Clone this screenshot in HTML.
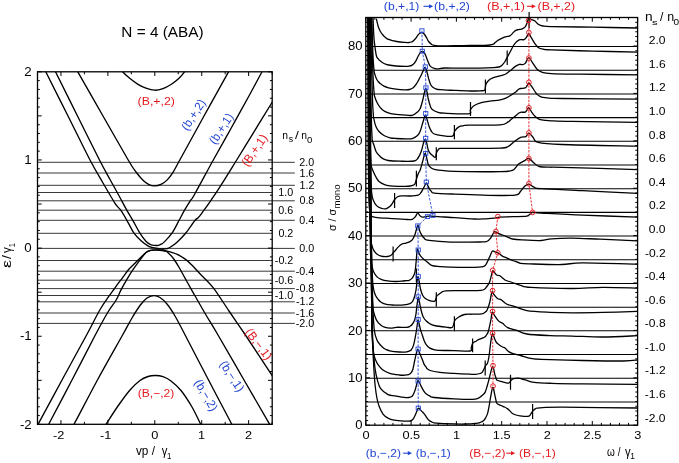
<!DOCTYPE html><html><head><meta charset="utf-8"><style>html,body{margin:0;padding:0;background:#fff;}svg{display:block;will-change:transform}text{font-family:"Liberation Sans",sans-serif;}</style></head><body>
<svg width="679" height="463" viewBox="0 0 679 463">
<rect width="679" height="463" fill="#fff"/>
<defs><clipPath id="cl"><rect x="37.5" y="71.8" width="234.7" height="352.5"/></clipPath><clipPath id="cr"><rect x="366" y="17.4" width="271.6" height="407.8"/></clipPath></defs>
<line x1="37.5" y1="162.3" x2="294.8" y2="162.3" stroke="#222" stroke-width="0.9"/>
<line x1="37.5" y1="173" x2="294.8" y2="173" stroke="#222" stroke-width="0.9"/>
<line x1="37.5" y1="185.3" x2="294.8" y2="185.3" stroke="#222" stroke-width="0.9"/>
<line x1="37.5" y1="192.5" x2="272.2" y2="192.5" stroke="#222" stroke-width="0.9"/>
<line x1="37.5" y1="200.8" x2="294.8" y2="200.8" stroke="#222" stroke-width="0.9"/>
<line x1="37.5" y1="210.2" x2="272.2" y2="210.2" stroke="#222" stroke-width="0.9"/>
<line x1="37.5" y1="220.3" x2="294.8" y2="220.3" stroke="#222" stroke-width="0.9"/>
<line x1="37.5" y1="233.3" x2="272.2" y2="233.3" stroke="#222" stroke-width="0.9"/>
<line x1="37.5" y1="248.4" x2="294.8" y2="248.4" stroke="#222" stroke-width="0.9"/>
<line x1="37.5" y1="260.5" x2="272.2" y2="260.5" stroke="#222" stroke-width="0.9"/>
<line x1="37.5" y1="271.2" x2="294.8" y2="271.2" stroke="#222" stroke-width="0.9"/>
<line x1="37.5" y1="280.2" x2="272.2" y2="280.2" stroke="#222" stroke-width="0.9"/>
<line x1="37.5" y1="288.6" x2="294.8" y2="288.6" stroke="#222" stroke-width="0.9"/>
<line x1="37.5" y1="295.5" x2="272.2" y2="295.5" stroke="#222" stroke-width="0.9"/>
<line x1="37.5" y1="301.8" x2="294.8" y2="301.8" stroke="#222" stroke-width="0.9"/>
<line x1="37.5" y1="313" x2="294.8" y2="313" stroke="#222" stroke-width="0.9"/>
<line x1="37.5" y1="323.4" x2="294.8" y2="323.4" stroke="#222" stroke-width="0.9"/>
<g clip-path="url(#cl)" fill="none" stroke="#000" stroke-width="1.35">
<path d="M116.5 63 C117.52 64.47 120.35 69.2 122.6 71.8 C124.85 74.4 127.43 76.52 130 78.6 C132.57 80.68 135.33 82.7 138 84.3 C140.67 85.9 143.23 87.22 146 88.2 C148.77 89.18 151.77 90.13 154.6 90.2 C157.43 90.27 160.27 89.55 163 88.6 C165.73 87.65 168.42 86.13 171 84.5 C173.58 82.87 176.25 80.92 178.5 78.8 C180.75 76.68 182.58 74.43 184.5 71.8 C186.42 69.17 189.08 64.47 190 63"/>
<path d="M73 63 C73.8 64.47 72.8 62.97 77.8 71.8 C82.8 80.63 94.6 101.3 103 116 C111.4 130.7 122.7 150.67 128.2 160 C133.7 169.33 133.53 168.63 136 172 C138.47 175.37 140.83 178.1 143 180.2 C145.17 182.3 147.05 183.65 149 184.6 C150.95 185.55 152.7 185.93 154.7 185.9 C156.7 185.87 158.95 185.37 161 184.4 C163.05 183.43 165 182.12 167 180.1 C169 178.08 170.87 175.65 173 172.3 C175.13 168.95 174.63 169.38 179.8 160 C184.97 150.62 195.88 130.7 204 116 C212.12 101.3 223.67 80.63 228.5 71.8 C233.33 62.97 232.25 64.47 233 63"/>
<path d="M41.2 63 C41.96 64.47 41.28 62.97 45.75 71.8 C50.22 80.63 60.62 101.3 68 116 C75.38 130.7 84.17 148.83 90 160 C95.83 171.17 98.83 175.78 103 183 C107.17 190.22 112.02 198.73 115 203.3 C117.98 207.87 118.92 207.57 120.9 210.4 C122.88 213.23 124.72 216.5 126.9 220.3 C129.08 224.1 131.63 229.8 134 233.2 C136.37 236.6 138.72 238.55 141.1 240.7 C143.48 242.85 146.32 244.93 148.3 246.1 C150.28 247.27 151.38 247.3 153 247.7 C154.62 248.1 156.33 248.28 158 248.5 C159.67 248.72 161.5 248.98 163 249 C164.5 249.02 165.8 248.88 167 248.6 C168.2 248.32 168.48 248.42 170.2 247.3 C171.92 246.18 174.73 244.25 177.3 241.9 C179.87 239.55 182.63 236.8 185.6 233.2 C188.57 229.6 192.7 223.23 195.1 220.3 C197.5 217.37 196.32 220.47 200 215.6 C203.68 210.73 211.08 200.37 217.2 191.1 C223.32 181.83 230.57 169.88 236.7 160 C242.83 150.12 248.17 141.3 254 131.8 C259.83 122.3 267.87 109.25 271.7 103 C275.53 96.75 276.12 95.75 277 94.3"/>
<path d="M51 63 C51.75 64.47 51.08 62.97 55.5 71.8 C59.92 80.63 70.17 101.3 77.5 116 C84.83 130.7 94.08 149.42 99.5 160 C104.92 170.58 106.82 173.67 110 179.5 C113.18 185.33 115.78 189.85 118.6 195 C121.42 200.15 124.53 206.18 126.9 210.4 C129.27 214.62 130.63 216.5 132.8 220.3 C134.97 224.1 137.72 229.72 139.9 233.2 C142.08 236.68 144.12 239.3 145.9 241.2 C147.68 243.1 149.12 243.9 150.6 244.6 C152.08 245.3 153.52 245.28 154.8 245.4 C156.08 245.52 157.23 245.5 158.3 245.3 C159.37 245.1 160.2 244.77 161.2 244.2 C162.2 243.63 162.5 243.73 164.3 241.9 C166.1 240.07 169.53 236.8 172 233.2 C174.47 229.6 177.03 224.1 179.1 220.3 C181.17 216.5 182.52 213.68 184.4 210.4 C186.28 207.12 188.72 203.25 190.4 200.6 C192.08 197.95 190.68 201.27 194.5 194.5 C198.32 187.73 207.13 171.17 213.3 160 C219.47 148.83 225.47 138.33 231.5 127.5 C237.53 116.67 244.42 104.28 249.5 95 C254.58 85.72 259.17 77.13 262 71.8 C264.83 66.47 265.75 64.47 266.5 63"/>
<path d="M101 432 C101.83 430.72 103.17 428.63 106 424.3 C108.83 419.97 114 411.72 118 406 C122 400.28 126.33 394.25 130 390 C133.67 385.75 137 382.75 140 380.5 C143 378.25 145.45 377.33 148 376.5 C150.55 375.67 152.8 375.47 155.3 375.5 C157.8 375.53 160.38 375.78 163 376.7 C165.62 377.62 168 378.7 171 381 C174 383.3 177.5 386.17 181 390.5 C184.5 394.83 188.72 401.37 192 407 C195.28 412.63 198.53 420.13 200.7 424.3 C202.87 428.47 204.28 430.72 205 432"/>
<path d="M69 432 C69.83 430.72 69.17 433.13 74 424.3 C78.83 415.47 89.9 393.88 98 379 C106.1 364.12 116.93 345.17 122.6 335 C128.27 324.83 129.1 322.92 132 318 C134.9 313.08 137.5 308.83 140 305.5 C142.5 302.17 144.72 299.65 147 298 C149.28 296.35 151.53 295.68 153.7 295.6 C155.87 295.52 157.78 296.1 160 297.5 C162.22 298.9 164.5 300.92 167 304 C169.5 307.08 171.98 310.83 175 316 C178.02 321.17 179.6 324.5 185.1 335 C190.6 345.5 200.22 364.12 208 379 C215.78 393.88 227.13 415.47 231.8 424.3 C236.47 433.13 235.3 430.72 236 432"/>
<path d="M33 432 C33.83 430.72 33.17 432.97 38 424.3 C42.83 415.63 53.9 394.88 62 380 C70.1 365.12 80.1 347 86.6 335 C93.1 323 96.27 315.87 101 308 C105.73 300.13 111.48 292.75 115 287.8 C118.52 282.85 119.72 281.47 122.1 278.3 C124.48 275.13 126.72 271.75 129.3 268.8 C131.88 265.85 135.23 262.93 137.6 260.6 C139.97 258.27 141.72 256.37 143.5 254.8 C145.28 253.23 146.52 252.02 148.3 251.2 C150.08 250.38 152.23 250.1 154.2 249.9 C156.17 249.7 158.15 249.85 160.1 250 C162.05 250.15 164.08 250.43 165.9 250.8 C167.72 251.17 169.1 251.6 171 252.2 C172.9 252.8 174.87 253.2 177.3 254.4 C179.73 255.6 183.02 257.45 185.6 259.4 C188.18 261.35 190.4 263.7 192.8 266.1 C195.2 268.5 196.58 270.18 200 273.8 C203.42 277.42 208.47 281.6 213.3 287.8 C218.13 294 223.65 303.13 229 311 C234.35 318.87 238.28 324.35 245.4 335 C252.52 345.65 266.43 366.9 271.7 374.9 C276.97 382.9 276.12 381.65 277 383"/>
<path d="M44 432 C44.78 430.72 44.03 432.97 48.7 424.3 C53.37 415.63 64.23 394.88 72 380 C79.77 365.12 89.3 346.33 95.3 335 C101.3 323.67 104.52 317.83 108 312 C111.48 306.17 114.05 303.65 116.2 300 C118.35 296.35 119.12 293.53 120.9 290.1 C122.68 286.67 124.92 282.77 126.9 279.4 C128.88 276.03 130.82 272.87 132.8 269.9 C134.78 266.93 136.62 264.48 138.8 261.6 C140.98 258.72 143.93 254.47 145.9 252.6 C147.87 250.73 148.75 250.8 150.6 250.4 C152.45 250 155.1 250.18 157 250.2 C158.9 250.22 160.7 250.37 162 250.5 C163.3 250.63 163.83 250.68 164.8 251 C165.77 251.32 166.3 251.07 167.8 252.4 C169.3 253.73 171.82 256.32 173.8 259 C175.78 261.68 177.73 265.13 179.7 268.5 C181.67 271.87 183.62 275.63 185.6 279.2 C187.58 282.77 190.12 287.27 191.6 289.9 C193.08 292.53 192.1 290.82 194.5 295 C196.9 299.18 202.08 308.33 206 315 C209.92 321.67 211.67 324.17 218 335 C224.33 345.83 235.38 365.12 244 380 C252.62 394.88 264.7 415.63 269.7 424.3 C274.7 432.97 273.28 430.72 274 432"/>
</g>
<rect x="37.5" y="71.8" width="234.7" height="352.5" fill="none" stroke="#000" stroke-width="1.3"/>
<path d="M37.5 424.3 v-2.5 M37.5 71.8 v2.5 M60.96 424.3 v-4.2 M60.96 71.8 v4.2 M84.42 424.3 v-2.5 M84.42 71.8 v2.5 M107.88 424.3 v-4.2 M107.88 71.8 v4.2 M131.34 424.3 v-2.5 M131.34 71.8 v2.5 M154.8 424.3 v-4.2 M154.8 71.8 v4.2 M178.26 424.3 v-2.5 M178.26 71.8 v2.5 M201.72 424.3 v-4.2 M201.72 71.8 v4.2 M225.18 424.3 v-2.5 M225.18 71.8 v2.5 M248.64 424.3 v-4.2 M248.64 71.8 v4.2 M272.1 424.3 v-2.5 M272.1 71.8 v2.5 M37.5 424.4 h4.2 M272.2 424.4 h-4.2 M37.5 415.59 h2.3 M272.2 415.59 h-2.3 M37.5 406.77 h2.3 M272.2 406.77 h-2.3 M37.5 397.96 h2.3 M272.2 397.96 h-2.3 M37.5 389.14 h2.3 M272.2 389.14 h-2.3 M37.5 380.33 h4.2 M272.2 380.33 h-4.2 M37.5 371.51 h2.3 M272.2 371.51 h-2.3 M37.5 362.69 h2.3 M272.2 362.69 h-2.3 M37.5 353.88 h2.3 M272.2 353.88 h-2.3 M37.5 345.06 h2.3 M272.2 345.06 h-2.3 M37.5 336.25 h4.2 M272.2 336.25 h-4.2 M37.5 327.44 h2.3 M272.2 327.44 h-2.3 M37.5 318.62 h2.3 M272.2 318.62 h-2.3 M37.5 309.81 h2.3 M272.2 309.81 h-2.3 M37.5 300.99 h2.3 M272.2 300.99 h-2.3 M37.5 292.18 h4.2 M272.2 292.18 h-4.2 M37.5 283.36 h2.3 M272.2 283.36 h-2.3 M37.5 274.55 h2.3 M272.2 274.55 h-2.3 M37.5 265.73 h2.3 M272.2 265.73 h-2.3 M37.5 256.92 h2.3 M272.2 256.92 h-2.3 M37.5 248.1 h4.2 M272.2 248.1 h-4.2 M37.5 239.28 h2.3 M272.2 239.28 h-2.3 M37.5 230.47 h2.3 M272.2 230.47 h-2.3 M37.5 221.65 h2.3 M272.2 221.65 h-2.3 M37.5 212.84 h2.3 M272.2 212.84 h-2.3 M37.5 204.02 h4.2 M272.2 204.02 h-4.2 M37.5 195.21 h2.3 M272.2 195.21 h-2.3 M37.5 186.39 h2.3 M272.2 186.39 h-2.3 M37.5 177.58 h2.3 M272.2 177.58 h-2.3 M37.5 168.76 h2.3 M272.2 168.76 h-2.3 M37.5 159.95 h4.2 M272.2 159.95 h-4.2 M37.5 151.13 h2.3 M272.2 151.13 h-2.3 M37.5 142.32 h2.3 M272.2 142.32 h-2.3 M37.5 133.5 h2.3 M272.2 133.5 h-2.3 M37.5 124.69 h2.3 M272.2 124.69 h-2.3 M37.5 115.87 h4.2 M272.2 115.87 h-4.2 M37.5 107.06 h2.3 M272.2 107.06 h-2.3 M37.5 98.24 h2.3 M272.2 98.24 h-2.3 M37.5 89.43 h2.3 M272.2 89.43 h-2.3 M37.5 80.61 h2.3 M272.2 80.61 h-2.3 M37.5 71.8 h4.2 M272.2 71.8 h-4.2" stroke="#000" stroke-width="1" fill="none"/>
<text transform="translate(24.36 76) scale(1.1200 1)" font-size="11.9" fill="#000">2</text>
<text transform="translate(24.34 164.15) scale(1.1200 1)" font-size="11.9" fill="#000">1</text>
<text transform="translate(24.21 252.3) scale(1.1200 1)" font-size="11.9" fill="#000">0</text>
<text transform="translate(19.9 340.45) scale(1.1200 1)" font-size="11.9" fill="#000">-1</text>
<text transform="translate(19.92 428.6) scale(1.1200 1)" font-size="11.9" fill="#000">-2</text>
<text transform="translate(53.12 439.1) scale(1.1000 1)" font-size="11.6" fill="#000">-2</text>
<text transform="translate(100.04 439.1) scale(1.1000 1)" font-size="11.6" fill="#000">-1</text>
<text transform="translate(151.25 439.1) scale(1.1000 1)" font-size="11.6" fill="#000">0</text>
<text transform="translate(198 439.1) scale(1.1000 1)" font-size="11.6" fill="#000">1</text>
<text transform="translate(245.09 439.1) scale(1.1000 1)" font-size="11.6" fill="#000">2</text>
<text transform="translate(135.96 455.3) scale(0.9844 1)" font-size="12" fill="#000">vp /</text>
<text transform="translate(161.76 455.3) scale(0.9463 1)" font-size="12" fill="#000">&#947;</text>
<text transform="translate(167 458.6) scale(0.9170 1)" font-size="8.6" fill="#000">1</text>
<g transform="translate(11.4 0) rotate(-90)"><text transform="translate(-267.92 0) scale(1.5071 1)" font-size="12" fill="#000">&#949;</text><text transform="translate(-258.9 0) scale(1.1698 1)" font-size="12" fill="#000">/</text><text transform="translate(-253.04 0) scale(0.9801 1)" font-size="12" fill="#000">&#947;</text><text transform="translate(-247.18 3.5) scale(0.9112 1)" font-size="8.4" fill="#000">1</text></g>
<text transform="translate(121.34 36.9) scale(1.0963 1)" font-size="14" fill="#000">N = 4 (ABA)</text>
<text transform="translate(282.31 138.7) scale(1.0358 1)" font-size="10" fill="#000">n</text>
<text transform="translate(288.66 142.4) scale(0.9174 1)" font-size="9.5" fill="#000">s</text>
<text transform="translate(295.1 138.7) scale(1.3677 1)" font-size="10" fill="#000">/</text>
<text transform="translate(301.21 138.7) scale(1.0358 1)" font-size="10" fill="#000">n</text>
<text transform="translate(307.02 142.6) scale(1.0024 1)" font-size="9.6" fill="#000">0</text>
<text transform="translate(299.36 165.8) scale(1.0760 1)" font-size="10" fill="#000">2.0</text>
<text transform="translate(299.41 176.5) scale(1.0760 1)" font-size="10" fill="#000">1.6</text>
<text transform="translate(299.48 188.8) scale(1.0760 1)" font-size="10" fill="#000">1.2</text>
<text transform="translate(278.26 196) scale(1.0760 1)" font-size="10" fill="#000">1.0</text>
<text transform="translate(299.41 204.3) scale(1.0760 1)" font-size="10" fill="#000">0.8</text>
<text transform="translate(278.31 213.7) scale(1.0760 1)" font-size="10" fill="#000">0.6</text>
<text transform="translate(299.26 223.8) scale(1.0760 1)" font-size="10" fill="#000">0.4</text>
<text transform="translate(278.38 236.8) scale(1.0760 1)" font-size="10" fill="#000">0.2</text>
<text transform="translate(299.36 251.9) scale(1.0760 1)" font-size="10" fill="#000">0.0</text>
<text transform="translate(274.8 264) scale(1.0760 1)" font-size="10" fill="#000">-0.2</text>
<text transform="translate(295.67 274.7) scale(1.0760 1)" font-size="10" fill="#000">-0.4</text>
<text transform="translate(274.73 283.7) scale(1.0760 1)" font-size="10" fill="#000">-0.6</text>
<text transform="translate(295.83 292.1) scale(1.0760 1)" font-size="10" fill="#000">-0.8</text>
<text transform="translate(274.68 299) scale(1.0760 1)" font-size="10" fill="#000">-1.0</text>
<text transform="translate(295.9 305.3) scale(1.0760 1)" font-size="10" fill="#000">-1.2</text>
<text transform="translate(295.83 316.5) scale(1.0760 1)" font-size="10" fill="#000">-1.6</text>
<text transform="translate(295.78 326.9) scale(1.0760 1)" font-size="10" fill="#000">-2.0</text>
<text transform="translate(137.53 105.1) scale(1.1035 1)" font-size="11.2" fill="#e41c22">(B,+,2)</text>
<text transform="translate(137.75 397.2) scale(1.0789 1)" font-size="11.2" fill="#e41c22">(B,&#8722;,2)</text>
<text transform="translate(193.2 114.6) rotate(-57) translate(-17.23 4.32) scale(0.9843 1)" font-size="12" fill="#2246d2">(b,+,2)</text>
<text transform="translate(221 128.4) rotate(-57) translate(-17.23 4.32) scale(0.9843 1)" font-size="12" fill="#2246d2">(b,+,1)</text>
<text transform="translate(254.3 150) rotate(-55) translate(-17.99 4.32) scale(0.9897 1)" font-size="12" fill="#e41c22">(B,+,1)</text>
<text transform="translate(206.4 395) rotate(60) translate(-17.23 4.32) scale(0.9843 1)" font-size="12" fill="#2246d2">(b,&#8722;,2)</text>
<text transform="translate(232.3 376) rotate(57) translate(-17.23 4.32) scale(0.9843 1)" font-size="12" fill="#2246d2">(b,&#8722;,1)</text>
<text transform="translate(259 344) rotate(52.5) translate(-17.99 4.32) scale(0.9897 1)" font-size="12" fill="#e41c22">(B,&#8722;,1)</text>
<line x1="365.8" y1="401.91" x2="637.6" y2="401.91" stroke="#000" stroke-width="1.05"/>
<line x1="365.8" y1="378.22" x2="637.6" y2="378.22" stroke="#000" stroke-width="1.05"/>
<line x1="365.8" y1="354.53" x2="637.6" y2="354.53" stroke="#000" stroke-width="1.05"/>
<line x1="365.8" y1="330.84" x2="637.6" y2="330.84" stroke="#000" stroke-width="1.05"/>
<line x1="365.8" y1="307.15" x2="637.6" y2="307.15" stroke="#000" stroke-width="1.05"/>
<line x1="365.8" y1="283.46" x2="637.6" y2="283.46" stroke="#000" stroke-width="1.05"/>
<line x1="365.8" y1="259.77" x2="637.6" y2="259.77" stroke="#000" stroke-width="1.05"/>
<line x1="365.8" y1="236.08" x2="637.6" y2="236.08" stroke="#000" stroke-width="1.05"/>
<line x1="365.8" y1="212.39" x2="637.6" y2="212.39" stroke="#000" stroke-width="1.05"/>
<line x1="365.8" y1="188.7" x2="637.6" y2="188.7" stroke="#000" stroke-width="1.05"/>
<line x1="365.8" y1="165.01" x2="637.6" y2="165.01" stroke="#000" stroke-width="1.05"/>
<line x1="365.8" y1="141.32" x2="637.6" y2="141.32" stroke="#000" stroke-width="1.05"/>
<line x1="365.8" y1="117.63" x2="637.6" y2="117.63" stroke="#000" stroke-width="1.05"/>
<line x1="365.8" y1="93.94" x2="637.6" y2="93.94" stroke="#000" stroke-width="1.05"/>
<line x1="365.8" y1="70.25" x2="637.6" y2="70.25" stroke="#000" stroke-width="1.05"/>
<line x1="365.8" y1="46.56" x2="637.6" y2="46.56" stroke="#000" stroke-width="1.05"/>
<g clip-path="url(#cr)" fill="none" stroke="#000" stroke-width="1.3">
<path d="M370.11 17 C370.13 23.76 370.2 44.72 370.24 57.57 C370.28 70.41 370.33 82.52 370.37 94.08 C370.42 105.64 370.46 116.54 370.51 126.95 C370.56 137.35 370.61 147.16 370.65 156.53 C370.7 165.89 370.75 174.72 370.8 183.15 C370.85 191.58 370.9 199.53 370.96 207.12 C371.01 214.71 371.06 221.86 371.12 228.69 C371.17 235.52 371.22 241.95 371.28 248.1 C371.34 254.25 371.39 260.04 371.45 265.58 C371.51 271.11 371.57 276.33 371.63 281.31 C371.69 286.29 371.77 290.98 371.81 295.46 C371.85 299.95 371.85 304.17 371.86 308.21 C371.87 312.24 371.86 316.04 371.87 319.68 C371.87 323.31 371.71 324.68 371.9 330 C372.09 335.32 372.65 344.77 373 351.6 C373.35 358.43 373.63 365.27 374 371 C374.37 376.73 374.73 381.58 375.2 386 C375.67 390.42 376.17 394.15 376.8 397.5 C377.43 400.85 377.97 403.33 379 406.1 C380.03 408.87 381.5 412.1 383 414.1 C384.5 416.1 386.17 417.1 388 418.1 C389.83 419.1 391.33 419.6 394 420.1 C396.67 420.6 401.32 420.95 404 421.1 C406.68 421.25 408.58 421.33 410.1 421 C411.62 420.67 412.17 420.25 413.1 419.1 C414.03 417.95 414.93 415.77 415.7 414.1 C416.47 412.43 417.13 410.1 417.7 409.1 C418.27 408.1 418.63 407.98 419.1 408.1 C419.57 408.22 420 409.22 420.5 409.8 C421 410.38 421.52 410.97 422.1 411.6 C422.68 412.23 423.33 412.77 424 413.6 C424.67 414.43 425.43 415.63 426.1 416.6 C426.77 417.57 427.33 418.65 428 419.4 C428.67 420.15 429.27 420.58 430.1 421.1 C430.93 421.62 432 422.17 433 422.5 C434 422.83 432.58 422.87 436.1 423.1 C439.62 423.33 449.28 423.75 454.1 423.9 C458.92 424.05 461.38 424.08 465 424 C468.62 423.92 473.3 423.65 475.8 423.4 C478.3 423.15 478.68 422.98 480 422.5 C481.32 422.02 482.73 421.33 483.7 420.5 C484.67 419.67 485.15 418.68 485.8 417.5 C486.45 416.32 487.02 415.48 487.6 413.4 C488.18 411.32 488.77 407.9 489.3 405 C489.83 402.1 490.22 398.95 490.8 396 C491.38 393.05 492.15 387.57 492.8 387.3 C493.45 387.03 494.17 392.2 494.7 394.4 C495.23 396.6 495.6 398.97 496 400.5 C496.4 402.03 496.27 402.77 497.1 403.6 C497.93 404.43 499.85 404.97 501 405.5 C502.15 406.03 502.95 406.28 504 406.8 C505.05 407.32 506.3 407.9 507.3 408.6 C508.3 409.3 509.2 410.23 510 411 C510.8 411.77 511.1 412.53 512.1 413.2 C513.1 413.87 514.68 414.57 516 415 C517.32 415.43 518.03 415.58 520 415.8 C521.97 416.02 526.17 416.35 527.8 416.3 C529.43 416.25 529.27 415.95 529.8 415.5 C530.33 415.05 530.43 414.43 531 413.6 C531.57 412.77 532.42 411.33 533.2 410.5 C533.98 409.67 534.57 409.05 535.7 408.6 C536.83 408.15 535.63 408.03 540 407.8 C544.37 407.57 545.63 407.17 561.9 407.2 C578.17 407.23 624.98 407.87 637.6 408"/>
<path d="M369.84 17 C369.86 24.32 369.93 47.11 369.98 60.9 C370.02 74.7 370.07 87.55 370.12 99.76 C370.17 111.97 370.22 123.35 370.27 134.16 C370.32 144.97 370.38 155.04 370.43 164.61 C370.48 174.17 370.54 183.09 370.59 191.56 C370.65 200.03 370.7 207.92 370.76 215.41 C370.82 222.91 370.88 229.9 370.94 236.53 C371 243.17 371.06 249.35 371.12 255.22 C371.19 261.1 371.25 266.57 371.31 271.77 C371.38 276.97 371.45 281.81 371.51 286.41 C371.58 291.01 371.68 295.3 371.72 299.38 C371.76 303.45 371.74 307.25 371.76 310.85 C371.77 314.46 371.79 317.82 371.81 321.01 C371.84 324.2 371.64 324.9 371.9 330 C372.16 335.1 372.87 345.12 373.4 351.6 C373.93 358.08 374.45 364.22 375.1 368.9 C375.75 373.58 376.4 376.47 377.3 379.7 C378.2 382.93 378.7 385.82 380.5 388.3 C382.3 390.78 385.68 393.35 388.1 394.6 C390.52 395.85 392.33 395.33 395 395.8 C397.67 396.27 401.77 397.12 404.1 397.4 C406.43 397.68 407.67 397.68 409 397.5 C410.33 397.32 411.27 397.05 412.1 396.3 C412.93 395.55 413.4 394.37 414 393 C414.6 391.63 415.2 389.77 415.7 388.1 C416.2 386.43 416.6 384.28 417 383 C417.4 381.72 417.72 380.48 418.1 380.4 C418.48 380.32 418.8 381.55 419.3 382.5 C419.8 383.45 420.4 384.77 421.1 386.1 C421.8 387.43 422.67 389.22 423.5 390.5 C424.33 391.78 425.02 392.85 426.1 393.8 C427.18 394.75 428.67 395.58 430 396.2 C431.33 396.82 430.08 397.07 434.1 397.5 C438.12 397.93 447.68 398.5 454.1 398.8 C460.52 399.1 468.62 399.37 472.6 399.3 C476.58 399.23 476.68 398.82 478 398.4 C479.32 397.98 479.67 397.4 480.5 396.8 C481.33 396.2 482.22 395.58 483 394.8 C483.78 394.02 484.5 393.57 485.2 392.1 C485.9 390.63 486.53 388.23 487.2 386 C487.87 383.77 488.48 381.5 489.2 378.7 C489.92 375.9 490.9 371.22 491.5 369.2 C492.1 367.18 492.42 366.55 492.8 366.6 C493.18 366.65 493.48 368.28 493.8 369.5 C494.12 370.72 494.33 372.48 494.7 373.9 C495.07 375.32 495.6 376.95 496 378 C496.4 379.05 496 379.57 497.1 380.2 C498.2 380.83 500.9 381.3 502.6 381.8 C504.3 382.3 506.13 383.08 507.3 383.2 C508.47 383.32 508.95 383 509.6 382.5 C510.25 382 510.53 380.83 511.2 380.2 C511.87 379.57 512.4 379.03 513.6 378.7 C514.8 378.37 517 378.15 518.4 378.2 C519.8 378.25 520.7 378.67 522 379 C523.3 379.33 524.18 379.63 526.2 380.2 C528.22 380.77 529.88 381.88 534.1 382.4 C538.32 382.92 543.43 383.05 551.5 383.3 C559.57 383.55 568.15 383.73 582.5 383.9 C596.85 384.07 628.42 384.23 637.6 384.3"/>
<path d="M369.53 17 C369.56 27.83 369.66 62.3 369.74 82 C369.81 101.7 369.88 119.09 369.96 135.22 C370.04 151.35 370.12 165.58 370.2 178.79 C370.28 192 370.37 203.65 370.45 214.47 C370.54 225.28 370.63 234.82 370.73 243.67 C370.82 252.53 370.92 260.34 371.02 267.59 C371.12 274.84 371.22 281.23 371.33 287.17 C371.44 293.1 371.55 298.34 371.66 303.2 C371.78 308.06 371.9 312.35 372.02 316.32 C372.13 320.3 372.25 323.81 372.34 327.07 C372.44 330.33 372.51 333.2 372.6 335.87 C372.7 338.54 372.8 340.89 372.92 343.07 C373.03 345.26 373.15 347.18 373.28 348.97 C373.41 350.76 373.33 352.01 373.7 353.8 C374.07 355.59 374.8 357.93 375.5 359.7 C376.2 361.47 376.72 362.72 377.9 364.4 C379.08 366.08 380.62 368.32 382.6 369.8 C384.58 371.28 387.02 372.43 389.8 373.3 C392.58 374.17 396.77 374.68 399.3 375 C401.83 375.32 403.47 375.25 405 375.2 C406.53 375.15 407.53 375.03 408.5 374.7 C409.47 374.37 410.07 374.12 410.8 373.2 C411.53 372.28 412.25 371.32 412.9 369.2 C413.55 367.08 414.1 363.27 414.7 360.5 C415.3 357.73 416 354.45 416.5 352.6 C417 350.75 417.28 349.58 417.7 349.4 C418.12 349.22 418.62 350.77 419 351.5 C419.38 352.23 419.43 352.43 420 353.8 C420.57 355.17 421.7 357.93 422.4 359.7 C423.1 361.47 423.6 363.22 424.2 364.4 C424.8 365.58 425.53 366.12 426 366.8 C426.47 367.48 426.32 367.88 427 368.5 C427.68 369.12 427.93 369.87 430.1 370.5 C432.27 371.13 436 371.82 440 372.3 C444 372.78 449.1 373.08 454.1 373.4 C459.1 373.72 466.38 374.05 470 374.2 C473.62 374.35 474.13 374.42 475.8 374.3 C477.47 374.18 478.95 373.82 480 373.5 C481.05 373.18 481.43 373.15 482.1 372.4 C482.77 371.65 483.42 370.15 484 369 C484.58 367.85 485 366.52 485.6 365.5 C486.2 364.48 487 364.65 487.6 362.9 C488.2 361.15 488.72 358.15 489.2 355 C489.68 351.85 490.08 347.17 490.5 344 C490.92 340.83 491.35 337.73 491.7 336 C492.05 334.27 492.3 333.68 492.6 333.6 C492.9 333.52 493.13 334.57 493.5 335.5 C493.87 336.43 494.3 338.03 494.8 339.2 C495.3 340.37 495.85 341.63 496.5 342.5 C497.15 343.37 497.68 343.65 498.7 344.4 C499.72 345.15 501.55 346.4 502.6 347 C503.65 347.6 504.07 347.28 505 348 C505.93 348.72 506.97 350.4 508.2 351.3 C509.43 352.2 510.33 352.7 512.4 353.4 C514.47 354.1 517.52 354.67 520.6 355.5 C523.68 356.33 527.47 357.75 530.9 358.4 C534.33 359.05 532.6 359.05 541.2 359.4 C549.8 359.75 568.75 360.23 582.5 360.5 C596.25 360.77 614.52 361.08 623.7 361 C632.88 360.92 635.28 360.17 637.6 360"/>
<path d="M369.85 17 C369.88 26.88 369.99 58.26 370.07 76.27 C370.15 94.27 370.23 110.22 370.31 125.04 C370.39 139.86 370.48 152.99 370.56 165.19 C370.65 177.39 370.74 188.19 370.84 198.23 C370.93 208.27 371.03 217.17 371.13 225.43 C371.23 233.69 371.33 241.01 371.44 247.81 C371.54 254.61 371.66 260.64 371.77 266.23 C371.88 271.83 372 276.79 372.12 281.4 C372.24 286 372.38 290.09 372.5 293.88 C372.62 297.67 372.73 301.03 372.83 304.15 C372.94 307.27 373.02 310.03 373.12 312.6 C373.23 315.17 373.34 317.45 373.46 319.56 C373.59 321.67 373.72 323.55 373.86 325.29 C374 327.03 374.03 328.23 374.3 330 C374.57 331.77 374.9 333.92 375.5 335.9 C376.1 337.88 376.72 340.02 377.9 341.9 C379.08 343.78 381.25 345.93 382.6 347.2 C383.95 348.47 384.8 348.9 386 349.5 C387.2 350.1 387.58 350.38 389.8 350.8 C392.02 351.22 396.77 351.78 399.3 352 C401.83 352.22 403.47 352.2 405 352.1 C406.53 352 407.48 351.75 408.5 351.4 C409.52 351.05 410.27 351 411.1 350 C411.93 349 412.8 347.55 413.5 345.4 C414.2 343.25 414.8 339.67 415.3 337.1 C415.8 334.53 416.13 332.35 416.5 330 C416.87 327.65 417.22 324.68 417.5 323 C417.78 321.32 417.87 319.48 418.2 319.9 C418.53 320.32 419.1 323.82 419.5 325.5 C419.9 327.18 420.22 328.65 420.6 330 C420.98 331.35 421.2 331.82 421.8 333.6 C422.4 335.38 423.5 338.92 424.2 340.7 C424.9 342.48 425.12 343.1 426 344.3 C426.88 345.5 428.17 347.02 429.5 347.9 C430.83 348.78 432.48 349.2 434 349.6 C435.52 350 435.25 350.13 438.6 350.3 C441.95 350.47 448.87 350.48 454.1 350.6 C459.33 350.72 467.15 351.43 470 351 C472.85 350.57 470.73 349.33 471.2 348 C471.67 346.67 471.97 344.13 472.8 343 C473.63 341.87 475.33 341.72 476.2 341.2 C477.07 340.68 476.63 340.55 478 339.9 C479.37 339.25 482.98 338.12 484.4 337.3 C485.82 336.48 485.85 335.97 486.5 335 C487.15 334.03 487.57 334.03 488.3 331.5 C489.03 328.97 490.25 323.02 490.9 319.8 C491.55 316.58 491.55 312.85 492.2 312.2 C492.85 311.55 493.72 314.42 494.8 315.9 C495.88 317.38 497.4 319.87 498.7 321.1 C500 322.33 501.1 322.22 502.6 323.3 C504.1 324.38 505.33 326.42 507.7 327.6 C510.07 328.78 513.62 329.33 516.8 330.4 C519.98 331.47 521.27 333.13 526.8 334 C532.33 334.87 542.43 335.25 550 335.6 C557.57 335.95 563.35 335.87 572.2 336.1 C581.05 336.33 592.2 337.07 603.1 337 C614 336.93 631.85 335.92 637.6 335.7"/>
<path d="M369.28 17 C369.31 26.32 369.4 55.97 369.47 72.94 C369.53 89.91 369.6 104.9 369.67 118.82 C369.74 132.74 369.81 145.04 369.89 156.45 C369.96 167.87 370.04 177.96 370.12 187.33 C370.2 196.69 370.28 204.97 370.36 212.65 C370.45 220.33 370.54 227.12 370.63 233.42 C370.72 239.73 370.81 245.29 370.91 250.46 C371.01 255.63 371.11 260.2 371.21 264.44 C371.31 268.68 371.44 272.43 371.53 275.9 C371.62 279.38 371.69 282.46 371.77 285.31 C371.85 288.16 371.92 290.68 372 293.02 C372.09 295.36 372.19 297.43 372.29 299.35 C372.39 301.27 372.51 302.97 372.62 304.54 C372.74 306.12 372.67 307.01 373 308.8 C373.33 310.59 373.97 313.32 374.6 315.3 C375.23 317.28 375.88 319.17 376.8 320.7 C377.72 322.23 378.83 323.42 380.1 324.5 C381.37 325.58 382.6 326.58 384.4 327.2 C386.2 327.82 388.92 328.18 390.9 328.2 C392.88 328.22 393.65 327.45 396.3 327.3 C398.95 327.15 404.53 327.47 406.8 327.3 C409.07 327.13 408.95 326.85 409.9 326.3 C410.85 325.75 411.75 324.97 412.5 324 C413.25 323.03 413.83 322.08 414.4 320.5 C414.97 318.92 415.48 316.92 415.9 314.5 C416.32 312.08 416.52 308.87 416.9 306 C417.28 303.13 417.8 298.05 418.2 297.3 C418.6 296.55 418.92 299.8 419.3 301.5 C419.68 303.2 420.05 305.5 420.5 307.5 C420.95 309.5 421.5 311.83 422 313.5 C422.5 315.17 422.78 316.25 423.5 317.5 C424.22 318.75 425.3 320 426.3 321 C427.3 322 428.17 322.75 429.5 323.5 C430.83 324.25 431.55 324.9 434.3 325.5 C437.05 326.1 442.98 326.8 446 327.1 C449.02 327.4 450.93 328.4 452.4 327.3 C453.87 326.2 453.8 322.18 454.8 320.5 C455.8 318.82 456.8 318.2 458.4 317.2 C460 316.2 462.13 315 464.4 314.5 C466.67 314 469.1 314.32 472 314.2 C474.9 314.08 479.63 314.13 481.8 313.8 C483.97 313.47 484.13 312.8 485 312.2 C485.87 311.6 486.23 311.73 487 310.2 C487.77 308.67 488.85 305.78 489.6 303 C490.35 300.22 491.03 295.47 491.5 293.5 C491.97 291.53 492.07 291.13 492.4 291.2 C492.73 291.27 492.67 292.7 493.5 293.9 C494.33 295.1 496.1 297.4 497.4 298.4 C498.7 299.4 499.78 298.97 501.3 299.9 C502.82 300.83 504.35 302.92 506.5 304 C508.65 305.08 510.82 305.3 514.2 306.4 C517.58 307.5 520.83 309.62 526.8 310.6 C532.77 311.58 542.43 311.93 550 312.3 C557.57 312.67 563.35 312.78 572.2 312.8 C581.05 312.82 592.2 312.63 603.1 312.4 C614 312.17 631.85 311.57 637.6 311.4"/>
<path d="M369.36 17 C369.39 25.37 369.48 51.96 369.55 67.24 C369.61 82.53 369.68 96.1 369.75 108.71 C369.82 121.32 369.89 132.52 369.96 142.93 C370.04 153.34 370.11 162.58 370.19 171.17 C370.27 179.76 370.35 187.38 370.43 194.47 C370.52 201.56 370.6 207.86 370.69 213.71 C370.78 219.56 370.88 224.75 370.97 229.58 C371.07 234.41 371.17 238.69 371.27 242.68 C371.37 246.66 371.49 250.2 371.58 253.49 C371.67 256.78 371.72 259.7 371.8 262.41 C371.87 265.12 371.94 267.53 372.03 269.77 C372.12 272.01 372.21 274 372.31 275.85 C372.41 277.7 372.52 279.34 372.63 280.86 C372.75 282.39 372.76 283.23 373 285 C373.24 286.77 373.65 289.7 374.1 291.5 C374.55 293.3 375.07 294.53 375.7 295.8 C376.33 297.07 377 298.02 377.9 299.1 C378.8 300.18 379.83 301.45 381.1 302.3 C382.37 303.15 383.68 303.75 385.5 304.2 C387.32 304.65 390.2 304.85 392 305 C393.8 305.15 394.3 305.13 396.3 305.1 C398.3 305.07 401.73 305.05 404 304.8 C406.27 304.55 408.48 304.15 409.9 303.6 C411.32 303.05 411.75 302.6 412.5 301.5 C413.25 300.4 413.82 298.92 414.4 297 C414.98 295.08 415.43 293.33 416 290 C416.57 286.67 417.27 278.42 417.8 277 C418.33 275.58 418.75 279.5 419.2 281.5 C419.65 283.5 419.95 286.75 420.5 289 C421.05 291.25 421.75 293.45 422.5 295 C423.25 296.55 423.83 297.37 425 298.3 C426.17 299.23 427.98 300.1 429.5 300.6 C431.02 301.1 433.1 301.4 434.1 301.3 C435.1 301.2 435.05 300.88 435.5 300 C435.95 299.12 436.28 296.92 436.8 296 C437.32 295.08 437.8 295.12 438.6 294.5 C439.4 293.88 440.37 292.92 441.6 292.3 C442.83 291.68 442.2 291.07 446 290.8 C449.8 290.53 459.57 290.73 464.4 290.7 C469.23 290.67 471.88 290.72 475 290.6 C478.12 290.48 481.18 290.6 483.1 290 C485.02 289.4 485.43 288.28 486.5 287 C487.57 285.72 488.67 284.3 489.5 282.3 C490.33 280.3 490.97 276.92 491.5 275 C492.03 273.08 492.28 271.3 492.7 270.8 C493.12 270.3 493.35 271.3 494 272 C494.65 272.7 495.63 274.37 496.6 275 C497.57 275.63 498.55 275.1 499.8 275.8 C501.05 276.5 503.02 278.42 504.1 279.2 C505.18 279.98 504.92 279.95 506.3 280.5 C507.68 281.05 510.02 281.68 512.4 282.5 C514.78 283.32 517.52 284.58 520.6 285.4 C523.68 286.22 522.3 286.88 530.9 287.4 C539.5 287.92 560.17 288.52 572.2 288.5 C584.23 288.48 592.2 287.37 603.1 287.3 C614 287.23 631.85 287.97 637.6 288.1"/>
<path d="M368.57 17 C368.59 24.41 368.66 47.87 368.7 61.44 C368.75 75 368.8 87.11 368.84 98.39 C368.89 109.67 368.94 119.74 368.99 129.12 C369.04 138.5 369.1 146.88 369.15 154.68 C369.2 162.48 369.26 169.44 369.32 175.93 C369.38 182.42 369.43 188.21 369.5 193.6 C369.56 198.99 369.62 203.81 369.69 208.3 C369.75 212.78 369.82 216.78 369.89 220.52 C369.96 224.25 370.05 227.58 370.1 230.68 C370.15 233.78 370.16 236.55 370.19 239.13 C370.23 241.71 370.27 244.01 370.32 246.16 C370.37 248.3 370.42 250.22 370.48 252 C370.54 253.78 370.61 255.38 370.68 256.86 C370.74 258.34 370.68 259.33 370.9 260.9 C371.12 262.47 371.55 264.5 372 266.3 C372.45 268.1 372.8 269.98 373.6 271.7 C374.4 273.42 375.55 275.33 376.8 276.6 C378.05 277.87 379.3 278.58 381.1 279.3 C382.9 280.02 385.07 280.53 387.6 280.9 C390.13 281.27 393.73 281.48 396.3 281.5 C398.87 281.52 401.38 281.15 403 281 C404.62 280.85 404.97 280.72 406 280.6 C407.03 280.48 408.13 280.77 409.2 280.3 C410.27 279.83 411.57 278.77 412.4 277.8 C413.23 276.83 413.73 275.68 414.2 274.5 C414.67 273.32 414.85 273.15 415.2 270.7 C415.55 268.25 416 263.17 416.3 259.8 C416.6 256.43 416.82 252.33 417 250.5 C417.18 248.67 417.22 248.8 417.4 248.8 C417.58 248.8 417.83 249.73 418.1 250.5 C418.37 251.27 418.5 252.37 419 253.4 C419.5 254.43 420.2 255.63 421.1 256.7 C422 257.77 423.58 259.1 424.4 259.8 C425.22 260.5 424.82 259.98 426 260.9 C427.18 261.82 429.17 264.35 431.5 265.3 C433.83 266.25 436.92 266.28 440 266.6 C443.08 266.92 444.25 267.07 450 267.2 C455.75 267.33 469.17 267.47 474.5 267.4 C479.83 267.33 480.17 267.17 482 266.8 C483.83 266.43 484.27 266.77 485.5 265.2 C486.73 263.63 488.4 259.52 489.4 257.4 C490.4 255.28 490.95 253.58 491.5 252.5 C492.05 251.42 492.12 251.02 492.7 250.9 C493.28 250.78 494.15 251.48 495 251.8 C495.85 252.12 496.57 252.08 497.8 252.8 C499.03 253.52 501 255.28 502.4 256.1 C503.8 256.92 504.53 256.97 506.2 257.7 C507.87 258.43 510.88 259.9 512.4 260.5 C513.92 261.1 513.93 260.83 515.3 261.3 C516.67 261.77 518.15 262.87 520.6 263.3 C523.05 263.73 523.12 263.7 530 263.9 C536.88 264.1 553.15 264.68 561.9 264.5 C570.65 264.32 569.88 262.87 582.5 262.8 C595.12 262.73 628.42 263.88 637.6 264.1"/>
<path d="M368.47 17 C368.49 24.09 368.56 46.62 368.6 59.55 C368.65 72.48 368.7 83.92 368.75 94.56 C368.79 105.2 368.85 114.62 368.9 123.37 C368.95 132.12 369 139.87 369.06 147.07 C369.11 154.27 369.17 160.65 369.23 166.58 C369.29 172.5 369.35 177.75 369.41 182.62 C369.48 187.5 369.54 191.82 369.61 195.83 C369.68 199.84 369.76 203.4 369.82 206.7 C369.88 210 369.93 212.92 369.97 215.64 C370.02 218.35 370.04 220.76 370.09 222.99 C370.13 225.23 370.18 227.21 370.24 229.05 C370.3 230.89 370.36 232.52 370.43 234.03 C370.5 235.54 370.57 236.88 370.65 238.13 C370.73 239.37 370.67 240.22 370.9 241.5 C371.13 242.78 371.55 244.37 372 245.8 C372.45 247.23 372.8 248.75 373.6 250.1 C374.4 251.45 375.55 252.9 376.8 253.9 C378.05 254.9 379.65 255.65 381.1 256.1 C382.55 256.55 384.15 256.6 385.5 256.6 C386.85 256.6 388.12 256.45 389.2 256.1 C390.28 255.75 391.37 255.05 392 254.5 C392.63 253.95 392.57 253.35 393 252.8 C393.43 252.25 393.7 252.18 394.6 251.2 C395.5 250.22 397.22 248.07 398.4 246.9 C399.58 245.73 400.43 244.83 401.7 244.2 C402.97 243.57 404.72 243.48 406 243.1 C407.28 242.72 408.37 242.43 409.4 241.9 C410.43 241.37 411.3 241.05 412.2 239.9 C413.1 238.75 414.13 236.62 414.8 235 C415.47 233.38 415.7 231.83 416.2 230.2 C416.7 228.57 417.33 225.48 417.8 225.2 C418.27 224.92 418.6 227.33 419 228.5 C419.4 229.67 419.65 230.98 420.2 232.2 C420.75 233.42 421.62 234.78 422.3 235.8 C422.98 236.82 423.63 237.63 424.3 238.3 C424.97 238.97 424.63 239.37 426.3 239.8 C427.97 240.23 430.35 240.52 434.3 240.9 C438.25 241.28 444.98 241.9 450 242.1 C455.02 242.3 459.4 242.12 464.4 242.1 C469.4 242.08 476.27 242.1 480 242 C483.73 241.9 485.02 242.17 486.8 241.5 C488.58 240.83 489.5 239.57 490.7 238 C491.9 236.43 493.12 233.07 494 232.1 C494.88 231.13 495.03 231.87 496 232.2 C496.97 232.53 498.47 233.55 499.8 234.1 C501.13 234.65 502.48 234.92 504 235.5 C505.52 236.08 507.5 237.02 508.9 237.6 C510.3 238.18 510.25 238.62 512.4 239 C514.55 239.38 517 239.65 521.8 239.9 C526.6 240.15 536.25 240.68 541.2 240.5 C546.15 240.32 546.33 239.2 551.5 238.8 C556.67 238.4 564.12 238.03 572.2 238.1 C580.28 238.17 589.1 238.75 600 239.2 C610.9 239.65 631.33 240.53 637.6 240.8"/>
<path d="M367.68 17 C367.7 25.2 367.76 51.83 367.8 66.22 C367.84 80.62 367.88 92.51 367.93 103.37 C367.97 114.23 368.02 123.2 368.07 131.4 C368.12 139.6 368.17 146.37 368.22 152.55 C368.28 158.74 368.33 163.84 368.39 168.51 C368.45 173.18 368.53 177.03 368.58 180.56 C368.63 184.08 368.65 186.99 368.68 189.65 C368.72 192.3 368.75 194.5 368.79 196.5 C368.84 198.51 368.89 200.17 368.95 201.68 C369.01 203.19 369.08 204.44 369.16 205.58 C369.23 206.73 369.32 207.67 369.41 208.53 C369.5 209.39 369.59 210.11 369.7 210.76 C369.8 211.41 369.91 211.94 370.03 212.43 C370.14 212.92 370.12 213.06 370.4 213.7 C370.68 214.34 370.85 215.7 371.7 216.3 C372.55 216.9 373.13 216.98 375.5 217.3 C377.87 217.62 380.98 217.85 385.9 218.2 C390.82 218.55 400.62 219.22 405 219.4 C409.38 219.58 410.45 219.78 412.2 219.3 C413.95 218.82 414.57 217.57 415.5 216.5 C416.43 215.43 417.05 213.02 417.8 212.9 C418.55 212.78 419.25 215.08 420 215.8 C420.75 216.52 421.3 217.07 422.3 217.2 C423.3 217.33 424.67 216.77 426 216.6 C427.33 216.43 427.23 216.13 430.3 216.2 C433.37 216.27 437.03 216.53 444.4 217 C451.77 217.47 467.57 218.7 474.5 219 C481.43 219.3 482.65 218.93 486 218.8 C489.35 218.67 492.27 218.48 494.6 218.2 C496.93 217.92 497.03 217.35 500 217.1 C502.97 216.85 507.93 216.87 512.4 216.7 C516.87 216.53 523.95 216.47 526.8 216.1 C529.65 215.73 528.63 215.08 529.5 214.5 C530.37 213.92 531.08 212.92 532 212.6 C532.92 212.28 533.47 212.53 535 212.6 C536.53 212.67 533.28 212.58 541.2 213 C549.12 213.42 566.43 214.42 582.5 215.1 C598.57 215.78 628.42 216.77 637.6 217.1"/>
<path d="M369.03 17 C369.05 22.14 369.13 38.39 369.18 47.85 C369.23 57.31 369.28 65.81 369.34 73.76 C369.39 81.71 369.45 88.85 369.51 95.53 C369.57 102.2 369.63 108.2 369.69 113.81 C369.75 119.42 369.81 124.46 369.88 129.17 C369.94 133.88 370.01 138.11 370.08 142.07 C370.15 146.02 370.22 149.58 370.29 152.9 C370.37 156.22 370.46 159.21 370.52 162 C370.58 164.79 370.61 167.3 370.65 169.65 C370.7 171.99 370.74 174.1 370.8 176.07 C370.85 178.04 370.91 179.81 370.98 181.47 C371.05 183.12 371.12 184.61 371.19 186 C371.27 187.39 371.35 188.64 371.43 189.8 C371.52 190.97 371.44 191.4 371.7 193 C371.96 194.6 372.15 197.25 373 199.4 C373.85 201.55 375.3 204.38 376.8 205.9 C378.3 207.42 380.48 208.02 382 208.5 C383.52 208.98 384.6 209.12 385.9 208.8 C387.2 208.48 388.72 207.52 389.8 206.6 C390.88 205.68 391.6 204.48 392.4 203.3 C393.2 202.12 393.73 200.58 394.6 199.5 C395.47 198.42 396.45 197.42 397.6 196.8 C398.75 196.18 399.43 195.93 401.5 195.8 C403.57 195.67 407.22 196.12 410 196 C412.78 195.88 416.37 195.68 418.2 195.1 C420.03 194.52 420.15 193.6 421 192.5 C421.85 191.4 422.42 190.08 423.3 188.5 C424.18 186.92 425.55 183.5 426.3 183 C427.05 182.5 427.3 184.53 427.8 185.5 C428.3 186.47 428.68 187.8 429.3 188.8 C429.92 189.8 430.67 190.78 431.5 191.5 C432.33 192.22 430.48 192.67 434.3 193.1 C438.12 193.53 443.45 193.7 454.4 194.1 C465.35 194.5 489.65 195.38 500 195.5 C510.35 195.62 513.07 195.5 516.5 194.8 C519.93 194.1 519.23 192.73 520.6 191.3 C521.97 189.87 523.32 187.4 524.7 186.2 C526.08 185 527.35 183.93 528.9 184.1 C530.45 184.27 531.95 186.43 534 187.2 C536.05 187.97 533.12 188.12 541.2 188.7 C549.28 189.28 566.43 189.92 582.5 190.7 C598.57 191.48 628.42 192.95 637.6 193.4"/>
<path d="M368.99 17 C369.01 20.92 369.07 33.22 369.11 40.51 C369.16 47.8 369.2 54.47 369.25 60.75 C369.29 67.03 369.34 72.77 369.39 78.18 C369.44 83.58 369.49 88.53 369.54 93.18 C369.59 97.84 369.64 102.09 369.69 106.1 C369.74 110.11 369.8 113.77 369.85 117.22 C369.91 120.67 369.97 123.83 370.03 126.8 C370.08 129.77 370.16 132.48 370.21 135.04 C370.25 137.6 370.25 139.94 370.28 142.14 C370.31 144.34 370.34 146.36 370.38 148.25 C370.42 150.15 370.46 151.88 370.5 153.51 C370.55 155.14 370.59 156.64 370.65 158.04 C370.7 159.45 370.75 160.73 370.81 161.94 C370.87 163.15 370.55 163.62 371 165.3 C371.45 166.98 372.62 169.95 373.5 172 C374.38 174.05 375.38 176.02 376.3 177.6 C377.22 179.18 377.63 180.33 379 181.5 C380.37 182.67 382.67 183.88 384.5 184.6 C386.33 185.32 387.75 185.52 390 185.8 C392.25 186.08 395.5 186.22 398 186.3 C400.5 186.38 402.97 186.35 405 186.3 C407.03 186.25 408.83 186.18 410.2 186 C411.57 185.82 412.4 185.57 413.2 185.2 C414 184.83 414.4 185 415 183.8 C415.6 182.6 416.22 179.8 416.8 178 C417.38 176.2 417.93 174.33 418.5 173 C419.07 171.67 419.53 171.83 420.2 170 C420.87 168.17 421.82 164.45 422.5 162 C423.18 159.55 423.83 156.75 424.3 155.3 C424.77 153.85 424.93 153.02 425.3 153.3 C425.67 153.58 426 155.13 426.5 157 C427 158.87 427.55 162.72 428.3 164.5 C429.05 166.28 430 166.9 431 167.7 C432 168.5 432.13 168.8 434.3 169.3 C436.47 169.8 440.65 170.37 444 170.7 C447.35 171.03 445.07 171.13 454.4 171.3 C463.73 171.47 490.33 171.87 500 171.7 C509.67 171.53 509.3 171.57 512.4 170.3 C515.5 169.03 516.55 165.72 518.6 164.1 C520.65 162.48 522.98 161.53 524.7 160.6 C526.42 159.67 527.35 158.1 528.9 158.5 C530.45 158.9 532.28 161.67 534 163 C535.72 164.33 536.53 165.8 539.2 166.5 C541.87 167.2 546.22 167.05 550 167.2 C553.78 167.35 547.3 167 561.9 167.4 C576.5 167.8 624.98 169.23 637.6 169.6"/>
<path d="M369.85 17 C369.88 20.06 369.95 29.65 370.01 35.39 C370.06 41.13 370.11 46.44 370.17 51.45 C370.22 56.47 370.28 61.1 370.34 65.48 C370.4 69.86 370.45 73.91 370.51 77.74 C370.57 81.57 370.64 85.1 370.7 88.45 C370.76 91.79 370.83 94.88 370.89 97.8 C370.96 100.72 371.03 103.42 371.1 105.97 C371.16 108.52 371.22 110.88 371.26 113.11 C371.31 115.33 371.34 117.39 371.38 119.34 C371.42 121.29 371.47 123.09 371.52 124.79 C371.57 126.49 371.63 128.06 371.69 129.54 C371.74 131.03 371.81 132.4 371.87 133.7 C371.94 135 372 136.2 372.08 137.33 C372.15 138.46 371.96 139.1 372.3 140.5 C372.64 141.9 373.43 143.78 374.1 145.7 C374.77 147.62 375.3 150.2 376.3 152 C377.3 153.8 378.93 155.35 380.1 156.5 C381.27 157.65 381.97 158.23 383.3 158.9 C384.63 159.57 385.32 160.12 388.1 160.5 C390.88 160.88 395.65 161.12 400 161.2 C404.35 161.28 411.2 161.53 414.2 161 C417.2 160.47 416.82 159.63 418 158 C419.18 156.37 420.38 153.7 421.3 151.2 C422.22 148.7 422.83 145 423.5 143 C424.17 141 424.75 139.12 425.3 139.2 C425.85 139.28 426.3 141.67 426.8 143.5 C427.3 145.33 427.72 148.53 428.3 150.2 C428.88 151.87 429.63 152.65 430.3 153.5 C430.97 154.35 431.47 154.67 432.3 155.3 C433.13 155.93 434.58 157.77 435.3 157.3 C436.02 156.83 436.07 153.8 436.6 152.5 C437.13 151.2 437.88 150.18 438.5 149.5 C439.12 148.82 438.38 148.6 440.3 148.4 C442.22 148.2 445.98 148.32 450 148.3 C454.02 148.28 456.07 148.32 464.4 148.3 C472.73 148.28 492.7 148.5 500 148.2 C507.3 147.9 505.8 147.63 508.2 146.5 C510.6 145.37 512.33 142.93 514.4 141.4 C516.47 139.87 518.7 138.1 520.6 137.3 C522.5 136.5 524.42 137.3 525.8 136.6 C527.18 135.9 527.7 132.98 528.9 133.1 C530.1 133.22 531.47 135.75 533 137.3 C534.53 138.85 533.28 141.2 538.1 142.4 C542.92 143.6 545.32 143.88 561.9 144.5 C578.48 145.12 624.98 145.83 637.6 146.1"/>
<path d="M370.74 17 C370.77 19.39 370.86 26.82 370.92 31.32 C370.98 35.81 371.04 39.98 371.11 43.95 C371.17 47.91 371.24 51.6 371.3 55.09 C371.37 58.59 371.44 61.84 371.51 64.93 C371.58 68.01 371.65 70.88 371.72 73.61 C371.79 76.33 371.87 78.86 371.94 81.26 C372.02 83.67 372.11 85.9 372.17 88.02 C372.23 90.14 372.26 92.11 372.31 93.98 C372.36 95.85 372.42 97.59 372.48 99.24 C372.53 100.89 372.6 102.43 372.66 103.89 C372.73 105.34 372.79 106.7 372.87 107.98 C372.94 109.27 373.01 110.46 373.09 111.6 C373.17 112.73 373.25 113.79 373.34 114.79 C373.42 115.79 373.21 115.73 373.6 117.6 C373.99 119.47 374.8 123.68 375.7 126 C376.6 128.32 377.55 129.87 379 131.5 C380.45 133.13 382.57 134.75 384.4 135.8 C386.23 136.85 388.07 137.35 390 137.8 C391.93 138.25 393.33 138.32 396 138.5 C398.67 138.68 403.3 138.88 406 138.9 C408.7 138.92 410.28 139.17 412.2 138.6 C414.12 138.03 416.17 136.73 417.5 135.5 C418.83 134.27 419.28 133.45 420.2 131.2 C421.12 128.95 422.15 124.68 423 122 C423.85 119.32 424.6 115.43 425.3 115.1 C426 114.77 426.53 118 427.2 120 C427.87 122 428.58 125.18 429.3 127.1 C430.02 129.02 430.67 130.35 431.5 131.5 C432.33 132.65 432.55 133.32 434.3 134 C436.05 134.68 438.98 135.23 442 135.6 C445.02 135.97 450.27 136.97 452.4 136.2 C454.53 135.43 453.8 132.52 454.8 131 C455.8 129.48 457.03 127.97 458.4 127.1 C459.77 126.23 461.32 126.13 463 125.8 C464.68 125.47 462.33 125.25 468.5 125.1 C474.67 124.95 493.38 125.45 500 124.9 C506.62 124.35 506.37 122.68 508.2 121.8 C510.03 120.92 509.75 120.6 511 119.6 C512.25 118.6 514.53 116.77 515.7 115.8 C516.87 114.83 517.22 114.38 518 113.8 C518.78 113.22 519.2 112.58 520.4 112.3 C521.6 112.02 524.07 112.52 525.2 112.1 C526.33 111.68 526.62 110.57 527.2 109.8 C527.78 109.03 528.07 107.3 528.7 107.5 C529.33 107.7 530.2 109.82 531 111 C531.8 112.18 532.58 113.5 533.5 114.6 C534.42 115.7 535.52 116.82 536.5 117.6 C537.48 118.38 537.98 118.85 539.4 119.3 C540.82 119.75 543.02 120.05 545 120.3 C546.98 120.55 546.77 120.62 551.3 120.8 C555.83 120.98 557.82 121.13 572.2 121.4 C586.58 121.67 626.7 122.23 637.6 122.4"/>
<path d="M371.42 17 C371.45 18.81 371.55 24.42 371.62 27.83 C371.68 31.24 371.75 34.43 371.82 37.47 C371.89 40.5 371.96 43.34 372.03 46.04 C372.1 48.74 372.18 51.26 372.25 53.66 C372.33 56.06 372.41 58.31 372.48 60.44 C372.56 62.58 372.65 64.58 372.71 66.48 C372.78 68.38 372.81 70.15 372.87 71.84 C372.93 73.53 372.99 75.11 373.05 76.61 C373.11 78.12 373.18 79.52 373.25 80.86 C373.31 82.19 373.39 83.44 373.46 84.63 C373.54 85.82 373.61 86.93 373.69 87.99 C373.77 89.05 373.86 90.04 373.95 90.98 C374.03 91.92 374.12 92.8 374.21 93.64 C374.31 94.47 374.04 94.52 374.5 96 C374.96 97.48 376.07 100.62 377 102.5 C377.93 104.38 379.1 106.02 380.1 107.3 C381.1 108.58 381.75 109.32 383 110.2 C384.25 111.08 385.75 111.93 387.6 112.6 C389.45 113.27 391.03 113.77 394.1 114.2 C397.17 114.63 402.98 115.02 406 115.2 C409.02 115.38 410.28 115.83 412.2 115.3 C414.12 114.77 416.17 113.13 417.5 112 C418.83 110.87 419.37 110.33 420.2 108.5 C421.03 106.67 421.82 103.58 422.5 101 C423.18 98.42 423.78 95.08 424.3 93 C424.82 90.92 425.15 88.67 425.6 88.5 C426.05 88.33 426.55 90.25 427 92 C427.45 93.75 427.75 96.67 428.3 99 C428.85 101.33 429.63 104.23 430.3 106 C430.97 107.77 431.02 108.55 432.3 109.6 C433.58 110.65 435.98 111.7 438 112.3 C440.02 112.9 439.32 112.95 444.4 113.2 C449.48 113.45 464.18 114.33 468.5 113.8 C472.82 113.27 469.47 111.3 470.3 110 C471.13 108.7 471.8 107.2 473.5 106 C475.2 104.8 477.75 103.6 480.5 102.8 C483.25 102 486.92 101.63 490 101.2 C493.08 100.77 496.67 100.6 499 100.2 C501.33 99.8 502.42 99.38 504 98.8 C505.58 98.22 506.55 97.83 508.5 96.7 C510.45 95.57 514.12 93.15 515.7 92 C517.28 90.85 517.22 90.38 518 89.8 C518.78 89.22 519.2 88.82 520.4 88.5 C521.6 88.18 524.07 88.4 525.2 87.9 C526.33 87.4 526.62 86.32 527.2 85.5 C527.78 84.68 528.15 83.12 528.7 83 C529.25 82.88 529.9 84.08 530.5 84.8 C531.1 85.52 531.55 86.18 532.3 87.3 C533.05 88.42 534.2 90.32 535 91.5 C535.8 92.68 536.27 93.58 537.1 94.4 C537.93 95.22 539.02 95.9 540 96.4 C540.98 96.9 541.12 97.08 543 97.4 C544.88 97.72 548.15 98.12 551.3 98.3 C554.45 98.48 547.52 98.35 561.9 98.5 C576.28 98.65 624.98 99.08 637.6 99.2"/>
<path d="M371.76 17 C371.79 18.15 371.88 21.72 371.94 23.92 C371.99 26.12 372.05 28.2 372.12 30.19 C372.18 32.19 372.24 34.07 372.3 35.88 C372.36 37.69 372.44 39.4 372.49 41.04 C372.55 42.68 372.59 44.24 372.64 45.72 C372.68 47.21 372.72 48.62 372.77 49.97 C372.82 51.32 372.87 52.59 372.92 53.82 C372.97 55.04 373.02 56.2 373.08 57.31 C373.13 58.42 373.19 59.47 373.25 60.48 C373.31 61.48 373.37 62.44 373.44 63.35 C373.5 64.26 373.57 65.12 373.63 65.95 C373.7 66.78 373.77 67.56 373.84 68.31 C373.92 69.07 373.99 69.78 374.07 70.46 C374.14 71.14 373.93 71.04 374.3 72.4 C374.67 73.76 375.65 77.08 376.3 78.6 C376.95 80.12 377.52 80.65 378.2 81.5 C378.88 82.35 379.43 82.92 380.4 83.7 C381.37 84.48 382.63 85.52 384 86.2 C385.37 86.88 386.6 87.3 388.6 87.8 C390.6 88.3 393.27 88.87 396 89.2 C398.73 89.53 402.75 89.75 405 89.8 C407.25 89.85 408.13 89.83 409.5 89.5 C410.87 89.17 412.12 88.63 413.2 87.8 C414.28 86.97 415.15 85.7 416 84.5 C416.85 83.3 417.55 81.93 418.3 80.6 C419.05 79.27 419.82 77.87 420.5 76.5 C421.18 75.13 421.82 73.65 422.4 72.4 C422.98 71.15 423.55 69.85 424 69 C424.45 68.15 424.72 67.17 425.1 67.3 C425.48 67.43 425.88 68.6 426.3 69.8 C426.72 71 427.15 72.8 427.6 74.5 C428.05 76.2 428.5 78.33 429 80 C429.5 81.67 430.02 83.33 430.6 84.5 C431.18 85.67 431.63 86.28 432.5 87 C433.37 87.72 434.55 88.35 435.8 88.8 C437.05 89.25 436.97 89.43 440 89.7 C443.03 89.97 449 90.18 454 90.4 C459 90.62 465.67 90.93 470 91 C474.33 91.07 477.57 90.93 480 90.8 C482.43 90.67 483.68 90.92 484.6 90.2 C485.52 89.48 485.18 87.67 485.5 86.5 C485.82 85.33 485.8 84.35 486.5 83.2 C487.2 82.05 488.62 80.5 489.7 79.6 C490.78 78.7 491.78 78.3 493 77.8 C494.22 77.3 495.5 77.02 497 76.6 C498.5 76.18 500.47 75.78 502 75.3 C503.53 74.82 504.72 74.55 506.2 73.7 C507.68 72.85 509.37 71.42 510.9 70.2 C512.43 68.98 513.97 67.38 515.4 66.4 C516.83 65.42 518.47 64.6 519.5 64.3 C520.53 64 520.65 64.75 521.6 64.6 C522.55 64.45 524.02 64.57 525.2 63.4 C526.38 62.23 527.52 57.78 528.7 57.6 C529.88 57.42 530.9 60.35 532.3 62.3 C533.7 64.25 535.52 67.65 537.1 69.3 C538.68 70.95 539.43 71.48 541.8 72.2 C544.17 72.92 544.93 73.27 551.3 73.6 C557.67 73.93 565.62 74 580 74.2 C594.38 74.4 628 74.7 637.6 74.8"/>
<path d="M373.03 17 C373.04 17.38 373.07 18.52 373.09 19.26 C373.11 19.99 373.13 20.71 373.16 21.42 C373.18 22.12 373.2 22.8 373.23 23.48 C373.25 24.15 373.28 24.8 373.3 25.45 C373.33 26.09 373.35 26.71 373.38 27.33 C373.4 27.94 373.43 28.54 373.46 29.12 C373.48 29.71 373.51 30.28 373.54 30.84 C373.57 31.4 373.6 31.95 373.63 32.48 C373.65 33.02 373.68 33.54 373.71 34.05 C373.74 34.56 373.77 35.06 373.81 35.55 C373.84 36.04 373.87 36.51 373.9 36.98 C373.93 37.45 373.96 37.9 374 38.35 C374.03 38.79 374.06 39.23 374.1 39.65 C374.13 40.08 373.83 38.26 374.2 40.9 C374.57 43.54 375.63 52.52 376.3 55.5 C376.97 58.48 377.52 57.87 378.2 58.8 C378.88 59.73 379.43 60.32 380.4 61.1 C381.37 61.88 382.63 62.85 384 63.5 C385.37 64.15 386.6 64.58 388.6 65 C390.6 65.42 393.27 65.78 396 66 C398.73 66.22 402.83 66.28 405 66.3 C407.17 66.32 407.8 66.3 409 66.1 C410.2 65.9 411.28 65.62 412.2 65.1 C413.12 64.58 413.82 63.83 414.5 63 C415.18 62.17 415.72 61.18 416.3 60.1 C416.88 59.02 417.48 57.52 418 56.5 C418.52 55.48 418.9 54.73 419.4 54 C419.9 53.27 420.5 52.52 421 52.1 C421.5 51.68 421.9 51.43 422.4 51.5 C422.9 51.57 423.48 51.92 424 52.5 C424.52 53.08 425 53.92 425.5 55 C426 56.08 426.48 57.65 427 59 C427.52 60.35 428.1 61.97 428.6 63.1 C429.1 64.23 429.48 65.12 430 65.8 C430.52 66.48 430.95 66.77 431.7 67.2 C432.45 67.63 433.48 68.12 434.5 68.4 C435.52 68.68 436.15 68.97 437.8 68.9 C439.45 68.83 440.7 68.12 444.4 68 C448.1 67.88 454.07 68.18 460 68.2 C465.93 68.22 474.4 68.2 480 68.1 C485.6 68 490.43 67.78 493.6 67.6 C496.77 67.42 497.6 67.38 499 67 C500.4 66.62 501 66.22 502 65.3 C503 64.38 504.13 62.82 505 61.5 C505.87 60.18 506.22 59.23 507.2 57.4 C508.18 55.57 509.85 52.48 510.9 50.5 C511.95 48.52 512.7 46.82 513.5 45.5 C514.3 44.18 514.95 43.42 515.7 42.6 C516.45 41.78 517.22 41.08 518 40.6 C518.78 40.12 519.4 39.87 520.4 39.7 C521.4 39.53 523 40 524 39.6 C525 39.2 525.62 38.3 526.4 37.3 C527.18 36.3 527.92 33.6 528.7 33.6 C529.48 33.6 530.1 35.68 531.1 37.3 C532.1 38.92 533.52 41.6 534.7 43.3 C535.88 45 536.82 46.52 538.2 47.5 C539.58 48.48 540.82 48.8 543 49.2 C545.18 49.6 543 49.58 551.3 49.9 C559.6 50.22 578.42 50.73 592.8 51.1 C607.18 51.47 630.13 51.93 637.6 52.1"/>
<path d="M376.3 18.6 C376.65 20 377.72 24.85 378.4 27 C379.08 29.15 379.72 30.25 380.4 31.5 C381.08 32.75 381.65 33.5 382.5 34.5 C383.35 35.5 384.48 36.68 385.5 37.5 C386.52 38.32 386.72 38.73 388.6 39.4 C390.48 40.07 394.07 41 396.8 41.5 C399.53 42 402.95 42.23 405 42.4 C407.05 42.57 408.02 42.57 409.1 42.5 C410.18 42.43 410.82 42.25 411.5 42 C412.18 41.75 412.4 41.73 413.2 41 C414 40.27 415.45 38.67 416.3 37.6 C417.15 36.53 417.68 35.33 418.3 34.6 C418.92 33.87 419.45 33.52 420 33.2 C420.55 32.88 421.07 32.72 421.6 32.7 C422.13 32.68 422.7 32.8 423.2 33.1 C423.7 33.4 424.05 33.75 424.6 34.5 C425.15 35.25 425.83 36.43 426.5 37.6 C427.17 38.77 427.73 40.35 428.6 41.5 C429.47 42.65 430.72 43.85 431.7 44.5 C432.68 45.15 433.48 45.18 434.5 45.4 C435.52 45.62 436.05 45.73 437.8 45.8 C439.55 45.87 442.3 45.82 445 45.8 C447.7 45.78 449.83 45.75 454 45.7 C458.17 45.65 465 45.57 470 45.5 C475 45.43 480.67 45.38 484 45.3 C487.33 45.22 488.43 45.18 490 45 C491.57 44.82 492.53 44.6 493.4 44.2 C494.27 43.8 494.43 43.25 495.2 42.6 C495.97 41.95 497.08 40.92 498 40.3 C498.92 39.68 499.63 39.43 500.7 38.9 C501.77 38.37 503.27 37.52 504.4 37.1 C505.53 36.68 506.58 36.6 507.5 36.4 C508.42 36.2 509.07 36.4 509.9 35.9 C510.73 35.4 511.58 34.28 512.5 33.4 C513.42 32.52 514.4 31.23 515.4 30.6 C516.4 29.97 517.47 29.85 518.5 29.6 C519.53 29.35 520.48 29.57 521.6 29.1 C522.72 28.63 524.25 27.9 525.2 26.8 C526.15 25.7 526.72 24.05 527.3 22.5 C527.88 20.95 528.25 18.17 528.7 17.5 C529.15 16.83 529.6 18.17 530 18.5 C530.4 18.83 530.32 19.12 531.1 19.5 C531.88 19.88 533.52 20.02 534.7 20.8 C535.88 21.58 536.82 23.33 538.2 24.2 C539.58 25.07 540.82 25.6 543 26 C545.18 26.4 543 26.4 551.3 26.6 C559.6 26.8 578.42 26.97 592.8 27.2 C607.18 27.43 630.13 27.87 637.6 28"/>
</g>
<path d="M532.6 403.9 V418.9 M510.5 374.7 V389.7 M485.2 360.5 V375.5 M472.6 338.5 V352.2 M454.4 316.2 V331.3 M436.3 292.3 V306.8 M416.4 268.5 V282.5 M393.1 246.4 V261.4 M394.6 193.1 V208 M416.4 170.8 V186.4 M436.3 147.2 V160.3 M454.4 125.1 V139.2 M470.5 102 V116.1 M485.4 79.6 V93.2 M507.2 50.4 V65 M529.1 12.1 V28.6" stroke="#000" stroke-width="1.2" fill="none"/>
<path d="M421.9 30.7 L422.3 51.2 L425.3 66.8 L425.9 87.7 L425.7 113.5 L425.7 138.2 L425.7 153.3 L426.3 182 L432.9 215.5 M427.5 216.6 L417.8 225.8 L418.2 249.9 L418.2 276.5 L418.2 296.8 L418.2 319.5 L418.1 349 L418.1 381.1 L418.3 408.1" stroke="#2246d2" stroke-width="0.9" stroke-dasharray="2.6 1.4" fill="none"/>
<rect x="416.2" y="406.2" width="4.2" height="3.8" fill="none" stroke="#2246d2" stroke-width="0.9"/>
<rect x="416" y="379.2" width="4.2" height="3.8" fill="none" stroke="#2246d2" stroke-width="0.9"/>
<rect x="416" y="347.1" width="4.2" height="3.8" fill="none" stroke="#2246d2" stroke-width="0.9"/>
<rect x="416.1" y="317.6" width="4.2" height="3.8" fill="none" stroke="#2246d2" stroke-width="0.9"/>
<rect x="416.1" y="294.9" width="4.2" height="3.8" fill="none" stroke="#2246d2" stroke-width="0.9"/>
<rect x="416.1" y="274.6" width="4.2" height="3.8" fill="none" stroke="#2246d2" stroke-width="0.9"/>
<rect x="416.1" y="248" width="4.2" height="3.8" fill="none" stroke="#2246d2" stroke-width="0.9"/>
<rect x="415.7" y="223.9" width="4.2" height="3.8" fill="none" stroke="#2246d2" stroke-width="0.9"/>
<rect x="425.4" y="214.7" width="4.2" height="3.8" fill="none" stroke="#2246d2" stroke-width="0.9"/>
<rect x="430.8" y="213.6" width="4.2" height="3.8" fill="none" stroke="#2246d2" stroke-width="0.9"/>
<rect x="424.2" y="180.1" width="4.2" height="3.8" fill="none" stroke="#2246d2" stroke-width="0.9"/>
<rect x="423.6" y="151.4" width="4.2" height="3.8" fill="none" stroke="#2246d2" stroke-width="0.9"/>
<rect x="423.6" y="136.3" width="4.2" height="3.8" fill="none" stroke="#2246d2" stroke-width="0.9"/>
<rect x="423.6" y="111.6" width="4.2" height="3.8" fill="none" stroke="#2246d2" stroke-width="0.9"/>
<rect x="423.8" y="85.8" width="4.2" height="3.8" fill="none" stroke="#2246d2" stroke-width="0.9"/>
<rect x="423.2" y="64.9" width="4.2" height="3.8" fill="none" stroke="#2246d2" stroke-width="0.9"/>
<rect x="420.2" y="49.3" width="4.2" height="3.8" fill="none" stroke="#2246d2" stroke-width="0.9"/>
<rect x="419.8" y="28.8" width="4.2" height="3.8" fill="none" stroke="#2246d2" stroke-width="0.9"/>
<path d="M528.5 20.5 L528.9 32.5 L528.9 58 L528.9 82.3 L528.9 107.8 L528.9 132.9 L528.9 158.5 L528.9 183.7 L532.6 212.4 M497.8 216.6 L495.9 231.5 L497.8 252.8 L492.7 270.3 L492.6 290.6 L492.6 311.4 L492.6 333.4 L493 365.6 L493 386.1" stroke="#e41c22" stroke-width="0.9" stroke-dasharray="2.4 1.2" fill="none"/>
<circle cx="493" cy="386.1" r="2.35" fill="none" stroke="#e41c22" stroke-width="1"/>
<circle cx="493" cy="365.6" r="2.35" fill="none" stroke="#e41c22" stroke-width="1"/>
<circle cx="492.6" cy="333.4" r="2.35" fill="none" stroke="#e41c22" stroke-width="1"/>
<circle cx="492.6" cy="311.4" r="2.35" fill="none" stroke="#e41c22" stroke-width="1"/>
<circle cx="492.6" cy="290.6" r="2.35" fill="none" stroke="#e41c22" stroke-width="1"/>
<circle cx="492.7" cy="270.3" r="2.35" fill="none" stroke="#e41c22" stroke-width="1"/>
<circle cx="497.8" cy="252.8" r="2.35" fill="none" stroke="#e41c22" stroke-width="1"/>
<circle cx="495.9" cy="231.5" r="2.35" fill="none" stroke="#e41c22" stroke-width="1"/>
<circle cx="497.8" cy="216.6" r="2.35" fill="none" stroke="#e41c22" stroke-width="1"/>
<circle cx="532.6" cy="212.4" r="2.35" fill="none" stroke="#e41c22" stroke-width="1"/>
<circle cx="528.9" cy="183.7" r="2.35" fill="none" stroke="#e41c22" stroke-width="1"/>
<circle cx="528.9" cy="158.5" r="2.35" fill="none" stroke="#e41c22" stroke-width="1"/>
<circle cx="528.9" cy="132.9" r="2.35" fill="none" stroke="#e41c22" stroke-width="1"/>
<circle cx="528.9" cy="107.8" r="2.35" fill="none" stroke="#e41c22" stroke-width="1"/>
<circle cx="528.9" cy="82.3" r="2.35" fill="none" stroke="#e41c22" stroke-width="1"/>
<circle cx="528.9" cy="58" r="2.35" fill="none" stroke="#e41c22" stroke-width="1"/>
<circle cx="528.9" cy="32.5" r="2.35" fill="none" stroke="#e41c22" stroke-width="1"/>
<circle cx="528.5" cy="20.5" r="2.35" fill="none" stroke="#e41c22" stroke-width="1"/>
<path d="M365.8 425.2 v-4.2 M365.8 17.5 v4.2 M374.86 425.2 v-2.3 M374.86 17.5 v2.3 M383.92 425.2 v-2.3 M383.92 17.5 v2.3 M392.98 425.2 v-2.3 M392.98 17.5 v2.3 M402.04 425.2 v-2.3 M402.04 17.5 v2.3 M411.1 425.2 v-4.2 M411.1 17.5 v4.2 M420.16 425.2 v-2.3 M420.16 17.5 v2.3 M429.22 425.2 v-2.3 M429.22 17.5 v2.3 M438.28 425.2 v-2.3 M438.28 17.5 v2.3 M447.34 425.2 v-2.3 M447.34 17.5 v2.3 M456.4 425.2 v-4.2 M456.4 17.5 v4.2 M465.46 425.2 v-2.3 M465.46 17.5 v2.3 M474.52 425.2 v-2.3 M474.52 17.5 v2.3 M483.58 425.2 v-2.3 M483.58 17.5 v2.3 M492.64 425.2 v-2.3 M492.64 17.5 v2.3 M501.7 425.2 v-4.2 M501.7 17.5 v4.2 M510.76 425.2 v-2.3 M510.76 17.5 v2.3 M519.82 425.2 v-2.3 M519.82 17.5 v2.3 M528.88 425.2 v-2.3 M528.88 17.5 v2.3 M537.94 425.2 v-2.3 M537.94 17.5 v2.3 M547 425.2 v-4.2 M547 17.5 v4.2 M556.06 425.2 v-2.3 M556.06 17.5 v2.3 M565.12 425.2 v-2.3 M565.12 17.5 v2.3 M574.18 425.2 v-2.3 M574.18 17.5 v2.3 M583.24 425.2 v-2.3 M583.24 17.5 v2.3 M592.3 425.2 v-4.2 M592.3 17.5 v4.2 M601.36 425.2 v-2.3 M601.36 17.5 v2.3 M610.42 425.2 v-2.3 M610.42 17.5 v2.3 M619.48 425.2 v-2.3 M619.48 17.5 v2.3 M628.54 425.2 v-2.3 M628.54 17.5 v2.3 M637.6 425.2 v-4.2 M637.6 17.5 v4.2 M365.8 425.2 h4.2 M637.6 425.2 h-4.2 M365.8 420.46 h2.3 M637.6 420.46 h-2.3 M365.8 415.72 h2.3 M637.6 415.72 h-2.3 M365.8 410.98 h2.3 M637.6 410.98 h-2.3 M365.8 406.24 h2.3 M637.6 406.24 h-2.3 M365.8 401.5 h2.3 M637.6 401.5 h-2.3 M365.8 396.76 h2.3 M637.6 396.76 h-2.3 M365.8 392.02 h2.3 M637.6 392.02 h-2.3 M365.8 387.28 h2.3 M637.6 387.28 h-2.3 M365.8 382.54 h2.3 M637.6 382.54 h-2.3 M365.8 377.8 h4.2 M637.6 377.8 h-4.2 M365.8 373.06 h2.3 M637.6 373.06 h-2.3 M365.8 368.32 h2.3 M637.6 368.32 h-2.3 M365.8 363.58 h2.3 M637.6 363.58 h-2.3 M365.8 358.84 h2.3 M637.6 358.84 h-2.3 M365.8 354.1 h2.3 M637.6 354.1 h-2.3 M365.8 349.36 h2.3 M637.6 349.36 h-2.3 M365.8 344.62 h2.3 M637.6 344.62 h-2.3 M365.8 339.88 h2.3 M637.6 339.88 h-2.3 M365.8 335.14 h2.3 M637.6 335.14 h-2.3 M365.8 330.4 h4.2 M637.6 330.4 h-4.2 M365.8 325.66 h2.3 M637.6 325.66 h-2.3 M365.8 320.92 h2.3 M637.6 320.92 h-2.3 M365.8 316.18 h2.3 M637.6 316.18 h-2.3 M365.8 311.44 h2.3 M637.6 311.44 h-2.3 M365.8 306.7 h2.3 M637.6 306.7 h-2.3 M365.8 301.96 h2.3 M637.6 301.96 h-2.3 M365.8 297.22 h2.3 M637.6 297.22 h-2.3 M365.8 292.48 h2.3 M637.6 292.48 h-2.3 M365.8 287.74 h2.3 M637.6 287.74 h-2.3 M365.8 283 h4.2 M637.6 283 h-4.2 M365.8 278.26 h2.3 M637.6 278.26 h-2.3 M365.8 273.52 h2.3 M637.6 273.52 h-2.3 M365.8 268.78 h2.3 M637.6 268.78 h-2.3 M365.8 264.04 h2.3 M637.6 264.04 h-2.3 M365.8 259.3 h2.3 M637.6 259.3 h-2.3 M365.8 254.56 h2.3 M637.6 254.56 h-2.3 M365.8 249.82 h2.3 M637.6 249.82 h-2.3 M365.8 245.08 h2.3 M637.6 245.08 h-2.3 M365.8 240.34 h2.3 M637.6 240.34 h-2.3 M365.8 235.6 h4.2 M637.6 235.6 h-4.2 M365.8 230.86 h2.3 M637.6 230.86 h-2.3 M365.8 226.12 h2.3 M637.6 226.12 h-2.3 M365.8 221.38 h2.3 M637.6 221.38 h-2.3 M365.8 216.64 h2.3 M637.6 216.64 h-2.3 M365.8 211.9 h2.3 M637.6 211.9 h-2.3 M365.8 207.16 h2.3 M637.6 207.16 h-2.3 M365.8 202.42 h2.3 M637.6 202.42 h-2.3 M365.8 197.68 h2.3 M637.6 197.68 h-2.3 M365.8 192.94 h2.3 M637.6 192.94 h-2.3 M365.8 188.2 h4.2 M637.6 188.2 h-4.2 M365.8 183.46 h2.3 M637.6 183.46 h-2.3 M365.8 178.72 h2.3 M637.6 178.72 h-2.3 M365.8 173.98 h2.3 M637.6 173.98 h-2.3 M365.8 169.24 h2.3 M637.6 169.24 h-2.3 M365.8 164.5 h2.3 M637.6 164.5 h-2.3 M365.8 159.76 h2.3 M637.6 159.76 h-2.3 M365.8 155.02 h2.3 M637.6 155.02 h-2.3 M365.8 150.28 h2.3 M637.6 150.28 h-2.3 M365.8 145.54 h2.3 M637.6 145.54 h-2.3 M365.8 140.8 h4.2 M637.6 140.8 h-4.2 M365.8 136.06 h2.3 M637.6 136.06 h-2.3 M365.8 131.32 h2.3 M637.6 131.32 h-2.3 M365.8 126.58 h2.3 M637.6 126.58 h-2.3 M365.8 121.84 h2.3 M637.6 121.84 h-2.3 M365.8 117.1 h2.3 M637.6 117.1 h-2.3 M365.8 112.36 h2.3 M637.6 112.36 h-2.3 M365.8 107.62 h2.3 M637.6 107.62 h-2.3 M365.8 102.88 h2.3 M637.6 102.88 h-2.3 M365.8 98.14 h2.3 M637.6 98.14 h-2.3 M365.8 93.4 h4.2 M637.6 93.4 h-4.2 M365.8 88.66 h2.3 M637.6 88.66 h-2.3 M365.8 83.92 h2.3 M637.6 83.92 h-2.3 M365.8 79.18 h2.3 M637.6 79.18 h-2.3 M365.8 74.44 h2.3 M637.6 74.44 h-2.3 M365.8 69.7 h2.3 M637.6 69.7 h-2.3 M365.8 64.96 h2.3 M637.6 64.96 h-2.3 M365.8 60.22 h2.3 M637.6 60.22 h-2.3 M365.8 55.48 h2.3 M637.6 55.48 h-2.3 M365.8 50.74 h2.3 M637.6 50.74 h-2.3 M365.8 46 h4.2 M637.6 46 h-4.2 M365.8 41.26 h2.3 M637.6 41.26 h-2.3 M365.8 36.52 h2.3 M637.6 36.52 h-2.3 M365.8 31.78 h2.3 M637.6 31.78 h-2.3 M365.8 27.04 h2.3 M637.6 27.04 h-2.3 M365.8 22.3 h2.3 M637.6 22.3 h-2.3 M365.8 17.56 h2.3 M637.6 17.56 h-2.3" stroke="#000" stroke-width="1" fill="none"/>
<rect x="365.8" y="17.5" width="271.8" height="407.7" fill="none" stroke="#000" stroke-width="1.3"/>
<text transform="translate(355.23 429.4) scale(1.1000 1)" font-size="11.9" fill="#000">0</text>
<text transform="translate(347.95 382) scale(1.1000 1)" font-size="11.9" fill="#000">10</text>
<text transform="translate(347.95 334.6) scale(1.1000 1)" font-size="11.9" fill="#000">20</text>
<text transform="translate(347.95 287.2) scale(1.1000 1)" font-size="11.9" fill="#000">30</text>
<text transform="translate(347.95 239.8) scale(1.1000 1)" font-size="11.9" fill="#000">40</text>
<text transform="translate(347.95 192.4) scale(1.1000 1)" font-size="11.9" fill="#000">50</text>
<text transform="translate(347.95 145) scale(1.1000 1)" font-size="11.9" fill="#000">60</text>
<text transform="translate(347.95 97.6) scale(1.1000 1)" font-size="11.9" fill="#000">70</text>
<text transform="translate(347.95 50.2) scale(1.1000 1)" font-size="11.9" fill="#000">80</text>
<text transform="translate(362.45 439.2) scale(1.1000 1)" font-size="11.6" fill="#000">0</text>
<text transform="translate(402.45 439.2) scale(1.1000 1)" font-size="11.6" fill="#000">0.5</text>
<text transform="translate(452.88 439.2) scale(1.1000 1)" font-size="11.6" fill="#000">1</text>
<text transform="translate(492.81 439.2) scale(1.1000 1)" font-size="11.6" fill="#000">1.5</text>
<text transform="translate(543.65 439.2) scale(1.1000 1)" font-size="11.6" fill="#000">2</text>
<text transform="translate(583.58 439.2) scale(1.1000 1)" font-size="11.6" fill="#000">2.5</text>
<text transform="translate(634.29 439.2) scale(1.1000 1)" font-size="11.6" fill="#000">3</text>
<text transform="translate(607.09 455.5) scale(0.8360 1)" font-size="12" fill="#000">&#969; /</text>
<text transform="translate(624.96 455.5) scale(0.9463 1)" font-size="12" fill="#000">&#947;</text>
<text transform="translate(630.16 458.8) scale(0.9709 1)" font-size="8.6" fill="#000">1</text>
<g transform="translate(336 0) rotate(-90)"><text transform="translate(-230.95 0) scale(0.9175 1)" font-size="11.6" fill="#000">&#963; / &#963;</text><text transform="translate(-208.54 3.5) scale(1.0846 1)" font-size="8.9" fill="#000">mono</text></g>
<text transform="translate(645.09 20.6) scale(1.1378 1)" font-size="12" fill="#000">n</text>
<text transform="translate(651.99 24.7) scale(1.5186 1)" font-size="7.4" fill="#000">s</text>
<text transform="translate(660.1 21.2) scale(1.0198 1)" font-size="12" fill="#000">/</text>
<text transform="translate(667.17 20.6) scale(1.0397 1)" font-size="12" fill="#000">n</text>
<text transform="translate(673.41 24.7) scale(1.0682 1)" font-size="9.4" fill="#000">0</text>
<text transform="translate(644.75 421.6) scale(1.0600 1)" font-size="11.4" fill="#000">-2.0</text>
<text transform="translate(644.81 398.02) scale(1.0600 1)" font-size="11.4" fill="#000">-1.6</text>
<text transform="translate(644.89 374.44) scale(1.0600 1)" font-size="11.4" fill="#000">-1.2</text>
<text transform="translate(644.75 350.86) scale(1.0600 1)" font-size="11.4" fill="#000">-1.0</text>
<text transform="translate(644.8 327.28) scale(1.0600 1)" font-size="11.4" fill="#000">-0.8</text>
<text transform="translate(644.81 303.7) scale(1.0600 1)" font-size="11.4" fill="#000">-0.6</text>
<text transform="translate(644.63 280.12) scale(1.0600 1)" font-size="11.4" fill="#000">-0.4</text>
<text transform="translate(644.89 256.54) scale(1.0600 1)" font-size="11.4" fill="#000">-0.2</text>
<text transform="translate(648.77 232.96) scale(1.0600 1)" font-size="11.4" fill="#000">0.0</text>
<text transform="translate(648.91 209.38) scale(1.0600 1)" font-size="11.4" fill="#000">0.2</text>
<text transform="translate(648.66 185.8) scale(1.0600 1)" font-size="11.4" fill="#000">0.4</text>
<text transform="translate(648.83 162.22) scale(1.0600 1)" font-size="11.4" fill="#000">0.6</text>
<text transform="translate(648.83 138.64) scale(1.0600 1)" font-size="11.4" fill="#000">0.8</text>
<text transform="translate(648.77 115.06) scale(1.0600 1)" font-size="11.4" fill="#000">1.0</text>
<text transform="translate(648.91 91.48) scale(1.0600 1)" font-size="11.4" fill="#000">1.2</text>
<text transform="translate(648.83 67.9) scale(1.0600 1)" font-size="11.4" fill="#000">1.6</text>
<text transform="translate(648.77 44.32) scale(1.0600 1)" font-size="11.4" fill="#000">2.0</text>
<text transform="translate(383.85 10.2) scale(1.0313 1)" font-size="11.8" fill="#2246d2">(b,+,1)</text>
<path d="M423.5 6.3 H430.2" stroke="#2246d2" stroke-width="1.1"/><path d="M433.2 6.3 L429 4.2 L429 8.4 Z" fill="#2246d2"/>
<text transform="translate(434.04 10.2) scale(1.0434 1)" font-size="11.8" fill="#2246d2">(b,+,2)</text>
<text transform="translate(487.03 10.2) scale(1.0590 1)" font-size="11.8" fill="#e41c22">(B,+,1)</text>
<path d="M527 6.3 H532.9" stroke="#e41c22" stroke-width="1.1"/><path d="M535.9 6.3 L531.7 4.2 L531.7 8.4 Z" fill="#e41c22"/>
<text transform="translate(537.53 10.2) scale(1.0503 1)" font-size="11.8" fill="#e41c22">(B,+,2)</text>
<text transform="translate(365.85 457) scale(1.0222 1)" font-size="11.8" fill="#2246d2">(b,&#8722;,2)</text>
<path d="M403.1 453.2 H409" stroke="#2246d2" stroke-width="1.1"/><path d="M412 453.2 L407.8 451.1 L407.8 455.3 Z" fill="#2246d2"/>
<text transform="translate(415.75 457) scale(1.0192 1)" font-size="11.8" fill="#2246d2">(b,&#8722;,1)</text>
<text transform="translate(469.16 457) scale(1.0153 1)" font-size="11.8" fill="#e41c22">(B,&#8722;,2)</text>
<path d="M506.3 453.2 H512.2" stroke="#e41c22" stroke-width="1.1"/><path d="M515.2 453.2 L511 451.1 L511 455.3 Z" fill="#e41c22"/>
<text transform="translate(519.05 457) scale(1.0269 1)" font-size="11.8" fill="#e41c22">(B,&#8722;,1)</text>
</svg></body></html>
